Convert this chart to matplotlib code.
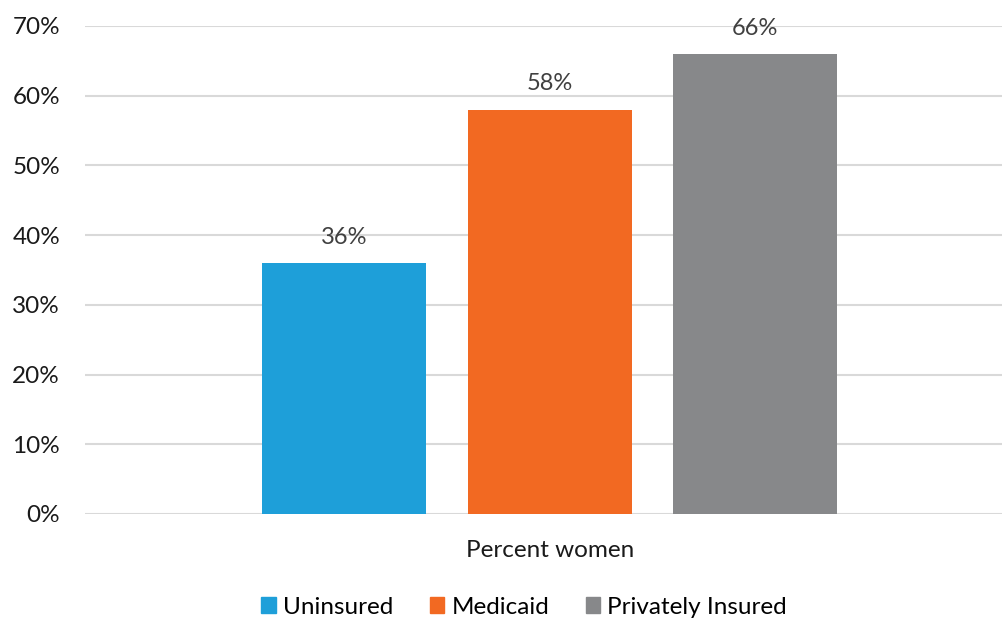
import matplotlib
matplotlib.use("Agg")
from matplotlib import pyplot as plt
from matplotlib.patches import Patch

plt.rcParams["font.family"] = ["Lato", "DejaVu Sans"]

# data
series = ["Uninsured", "Medicaid", "Privately Insured"]
values = [36, 58, 66]
colors = ["#1E9FD9", "#F26922", "#87888A"]
category = "Percent women"
yticks = [0, 10, 20, 30, 40, 50, 60, 70]

fig = plt.figure(figsize=(10.02, 6.22), dpi=100)
ax = fig.add_axes([85 / 1002, 1 - 514 / 622, 917 / 1002, 488 / 622])

pos = [0, 1, 2]
ax.bar(pos, values, width=0.797, color=colors, zorder=3)
for p, v in zip(pos, values):
    ax.text(p, v + 2.2, f"{v}%", ha="center", va="bottom", fontsize=17, color="#404040")

ax.set_ylim(0, 70)
ax.set_xlim(-1.259, 3.199)
ax.set_yticks(yticks)
ax.set_yticklabels([f"{t}%" for t in yticks], fontsize=17.5, color="#1a1a1a")
ax.tick_params(axis="y", length=0, pad=18)
ax.set_xticks([1])
ax.set_xticklabels([category], fontsize=17.5, color="#1a1a1a")
ax.tick_params(axis="x", length=0, pad=19)
ax.grid(axis="y", color="#d9d9d9", linewidth=1.5, zorder=0)
for s in ax.spines.values():
    s.set_visible(False)

handles = [Patch(color=c, label=s) for c, s in zip(colors, series)]
fig.legend(handles=handles, loc="center", bbox_to_anchor=(524 / 1002, 1 - 607 / 622),
           ncol=3, frameon=False, fontsize=17.5, handlelength=0.6, handleheight=0.6,
           handletextpad=0.3, columnspacing=1.5)

fig.savefig("out.png", dpi=100)
